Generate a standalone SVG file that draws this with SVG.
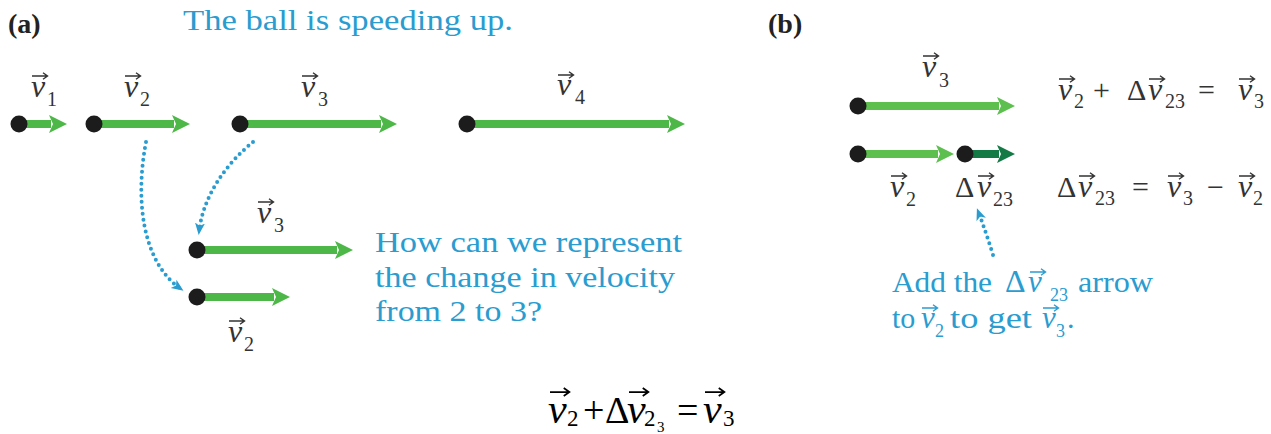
<svg xmlns="http://www.w3.org/2000/svg" width="1271" height="434" viewBox="0 0 1271 434">
<style>
.blue{font-family:"Liberation Serif","Times New Roman",serif;font-size:30px;fill:#2a9cd0}
.math{font-family:"Liberation Serif","Times New Roman",serif;fill:#333}
.vi{font-style:italic}
.lbl{font-family:"Liberation Serif","Times New Roman",serif;font-weight:bold;font-size:28px;fill:#222}
.shaft{stroke-width:8;fill:none}
.dot{fill:#1c1c1c}
.dotted{fill:none;stroke:#2a9cd0;stroke-width:4;stroke-linecap:round;stroke-dasharray:0 6}
.acc{fill:none;stroke-width:1.4}
</style>
<defs>
<marker id="ga" viewBox="0 -10 18 20" refX="2" refY="0" markerWidth="18" markerHeight="20" markerUnits="userSpaceOnUse" orient="auto"><path d="M0,-9 L18,0 L0,9 L4,0 Z" fill="#4db848"/></marker>
<marker id="gb" viewBox="0 -10 18 20" refX="2" refY="0" markerWidth="18" markerHeight="20" markerUnits="userSpaceOnUse" orient="auto"><path d="M0,-9 L18,0 L0,9 L4,0 Z" fill="#5cbf4e"/></marker>
<marker id="gd" viewBox="0 -10 18 20" refX="2" refY="0" markerWidth="18" markerHeight="20" markerUnits="userSpaceOnUse" orient="auto"><path d="M0,-9 L18,0 L0,9 L4,0 Z" fill="#137a46"/></marker>
<marker id="dh" viewBox="0 -6 12 12" refX="9" refY="0" markerWidth="12" markerHeight="12" markerUnits="userSpaceOnUse" orient="auto"><path d="M0,-5 L12,0 L0,5 L3,0 Z" fill="#2a9cd0"/></marker>
<path id="acc" d="M0,0 H15 M11,-3.2 L15.5,0 L11,3.2"/>
</defs>

<g id="panel-labels">
<text class="lbl" x="8" y="33">(a)</text>
<text class="lbl" x="768" y="33">(b)</text>
<text class="blue" x="183" y="30" textLength="330" lengthAdjust="spacingAndGlyphs">The ball is speeding up.</text>
</g>

<g id="connectors">
<path class="dotted" d="M146,142 C135,200 142,262 181,289" marker-end="url(#dh)"/>
<path class="dotted" d="M253,142 C226,164 203,196 199,232" marker-end="url(#dh)"/>
<path class="dotted" d="M993,255 Q986,232 978,211" marker-end="url(#dh)"/>
</g>

<g id="v1">
<line class="shaft" x1="19" y1="124" x2="51" y2="124" stroke="#4db848" marker-end="url(#ga)"/>
<circle class="dot" cx="19" cy="124" r="8.5"/>
<text class="math" y="97"><tspan class="vi" x="31" font-size="32">v</tspan><tspan x="47" y="106" font-size="20">1</tspan></text>
<use href="#acc" x="32" y="76" class="acc" stroke="#333"/>
</g>

<g id="v2">
<line class="shaft" x1="94" y1="124" x2="174" y2="124" stroke="#4db848" marker-end="url(#ga)"/>
<circle class="dot" cx="94" cy="124" r="8.5"/>
<text class="math" y="97"><tspan class="vi" x="124" font-size="32">v</tspan><tspan x="140" y="106" font-size="20">2</tspan></text>
<use href="#acc" x="125" y="76" class="acc" stroke="#333"/>
</g>

<g id="v3">
<line class="shaft" x1="240" y1="124" x2="381" y2="124" stroke="#4db848" marker-end="url(#ga)"/>
<circle class="dot" cx="240" cy="124" r="8.5"/>
<text class="math" y="97"><tspan class="vi" x="301" font-size="32">v</tspan><tspan x="318" y="106" font-size="20">3</tspan></text>
<use href="#acc" x="302" y="76" class="acc" stroke="#333"/>
</g>

<g id="v4">
<line class="shaft" x1="467" y1="124" x2="669" y2="124" stroke="#4db848" marker-end="url(#ga)"/>
<circle class="dot" cx="467" cy="124" r="8.5"/>
<text class="math" y="95"><tspan class="vi" x="557" font-size="32">v</tspan><tspan x="575" y="104" font-size="20">4</tspan></text>
<use href="#acc" x="558" y="75" class="acc" stroke="#333"/>
</g>

<g id="v3-copy">
<line class="shaft" x1="197" y1="250" x2="337" y2="250" stroke="#4db848" marker-end="url(#ga)"/>
<circle class="dot" cx="197" cy="250" r="8.5"/>
<text class="math" y="223"><tspan class="vi" x="257" font-size="32">v</tspan><tspan x="274" y="232" font-size="20">3</tspan></text>
<use href="#acc" x="258" y="202" class="acc" stroke="#333"/>
</g>

<g id="v2-copy">
<line class="shaft" x1="197" y1="297" x2="274" y2="297" stroke="#4db848" marker-end="url(#ga)"/>
<circle class="dot" cx="197" cy="297" r="8.5"/>
<text class="math" y="342"><tspan class="vi" x="228" font-size="32">v</tspan><tspan x="244" y="351" font-size="20">2</tspan></text>
<use href="#acc" x="229" y="321" class="acc" stroke="#333"/>
</g>

<g id="question">
<text class="blue" x="375" y="252" textLength="307" lengthAdjust="spacingAndGlyphs">How can we represent</text>
<text class="blue" x="375" y="287" textLength="300" lengthAdjust="spacingAndGlyphs">the change in velocity</text>
<text class="blue" x="375" y="321" textLength="167" lengthAdjust="spacingAndGlyphs">from 2 to 3?</text>
</g>

<g id="b-v3">
<line class="shaft" x1="858" y1="106" x2="999" y2="106" stroke="#5cbf4e" marker-end="url(#gb)"/>
<circle class="dot" cx="858" cy="106" r="8.5"/>
<text class="math" y="77"><tspan class="vi" x="922" font-size="32">v</tspan><tspan x="939" y="87" font-size="20">3</tspan></text>
<use href="#acc" x="923" y="56" class="acc" stroke="#333"/>
</g>

<g id="b-v2">
<line class="shaft" x1="858" y1="154" x2="938" y2="154" stroke="#5cbf4e" marker-end="url(#gb)"/>
<circle class="dot" cx="858" cy="154" r="8.5"/>
<text class="math" y="197"><tspan class="vi" x="890" font-size="32">v</tspan><tspan x="906" y="206" font-size="20">2</tspan></text>
<use href="#acc" x="891" y="176" class="acc" stroke="#333"/>
</g>

<g id="b-dv23">
<line class="shaft" x1="965" y1="154" x2="999" y2="154" stroke="#137a46" marker-end="url(#gd)"/>
<circle class="dot" cx="965" cy="154" r="8.5"/>
<text class="math" y="197"><tspan x="955" font-size="30">Δ</tspan><tspan class="vi" x="977" font-size="32">v</tspan><tspan x="993" y="206" font-size="20">23</tspan></text>
<use href="#acc" x="978" y="176" class="acc" stroke="#333"/>
</g>

<g id="eq1">
<text class="math" y="100" font-size="30"><tspan class="vi" x="1058" font-size="32">v</tspan><tspan x="1074" y="108" font-size="20">2</tspan><tspan x="1093" y="100">+</tspan><tspan x="1127">Δ</tspan><tspan class="vi" x="1148" font-size="32">v</tspan><tspan x="1165" y="108" font-size="20">23</tspan><tspan x="1198" y="100">=</tspan><tspan class="vi" x="1238" font-size="32">v</tspan><tspan x="1254" y="108" font-size="20">3</tspan></text>
<use href="#acc" x="1059" y="79" class="acc" stroke="#333"/>
<use href="#acc" x="1149" y="79" class="acc" stroke="#333"/>
<use href="#acc" x="1239" y="79" class="acc" stroke="#333"/>
</g>

<g id="eq2">
<text class="math" y="197" font-size="30"><tspan x="1057">Δ</tspan><tspan class="vi" x="1078" font-size="32">v</tspan><tspan x="1095" y="205" font-size="20">23</tspan><tspan x="1132" y="197">=</tspan><tspan class="vi" x="1167" font-size="32">v</tspan><tspan x="1183" y="205" font-size="20">3</tspan><tspan x="1207" y="197">−</tspan><tspan class="vi" x="1238" font-size="32">v</tspan><tspan x="1253" y="205" font-size="20">2</tspan></text>
<use href="#acc" x="1079" y="176" class="acc" stroke="#333"/>
<use href="#acc" x="1168" y="176" class="acc" stroke="#333"/>
<use href="#acc" x="1239" y="176" class="acc" stroke="#333"/>
</g>

<g id="hint">
<text class="blue" y="292"><tspan x="892" textLength="100" lengthAdjust="spacingAndGlyphs">Add the</tspan><tspan x="1005" font-size="32">Δ</tspan><tspan class="vi" x="1028" font-size="31">v</tspan><tspan x="1050" y="301" font-size="18">23</tspan><tspan x="1078" y="292" textLength="75" lengthAdjust="spacingAndGlyphs">arrow</tspan></text>
<use href="#acc" x="1030" y="272" class="acc" stroke="#2a9cd0"/>
<text class="blue" y="328"><tspan x="892">to</tspan><tspan class="vi" x="921" font-size="31">v</tspan><tspan x="935" y="337" font-size="18">2</tspan><tspan x="950" y="328" textLength="82" lengthAdjust="spacingAndGlyphs">to get</tspan><tspan class="vi" x="1042" font-size="31">v</tspan><tspan x="1056" y="337" font-size="18">3</tspan><tspan x="1067" y="328">.</tspan></text>
<use href="#acc" x="922" y="308" class="acc" stroke="#2a9cd0"/>
<use href="#acc" x="1043" y="308" class="acc" stroke="#2a9cd0"/>
</g>

<g id="bottom-eq">
<text class="math" y="423" font-size="38" style="fill:#000"><tspan class="vi" x="548" font-size="42">v</tspan><tspan x="567" y="426" font-size="23">2</tspan><tspan x="583" y="423">+</tspan><tspan x="605">Δ</tspan><tspan class="vi" x="627" font-size="42">v</tspan><tspan x="644" y="426" font-size="23">2</tspan><tspan x="657" y="432" font-size="15">3</tspan><tspan x="677" y="423">=</tspan><tspan class="vi" x="703" font-size="42">v</tspan><tspan x="723" y="426" font-size="23">3</tspan></text>
<use href="#acc" transform="translate(550,392) scale(1.25)" class="acc" stroke="#000"/>
<use href="#acc" transform="translate(629,392) scale(1.25)" class="acc" stroke="#000"/>
<use href="#acc" transform="translate(705,392) scale(1.25)" class="acc" stroke="#000"/>
</g>
</svg>
